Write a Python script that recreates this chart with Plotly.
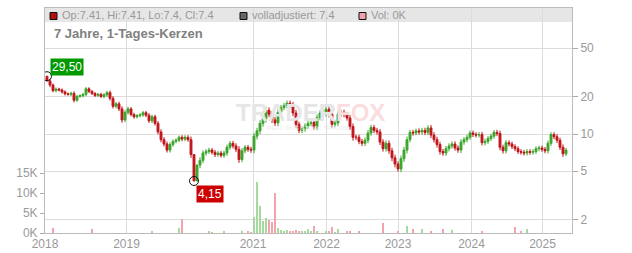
import plotly.graph_objects as go
import math

# ---------------- data ----------------
# one candle per step (about 2 weeks), 2018 -> spring 2025
close = [
    27.0, 25.0, 22.5, 23.2, 22.8, 22.0, 21.2, 21.0, 21.4, 18.8,
    20.2, 20.5, 21.0, 23.3, 22.2, 21.3, 20.6, 21.0, 20.2, 20.8,
    21.7, 19.5, 16.8, 17.6, 16.0, 13.0, 15.0, 16.0, 14.4, 13.8,
    14.1, 14.3, 14.9, 14.2, 12.8, 13.8, 12.2, 10.4, 9.0, 8.3,
    7.4, 8.2, 8.7, 8.9, 9.4, 9.1, 9.4, 9.0, 6.8, 4.15,
    5.6, 6.1, 7.0, 7.2, 7.4, 7.1, 6.8, 7.0, 6.7, 7.0,
    7.8, 8.4, 8.0, 7.5, 6.2, 7.3, 7.8, 7.5, 7.4, 9.6,
    10.6, 12.2, 13.2, 15.6, 14.5, 13.0, 12.3, 15.0, 16.4, 17.0,
    17.8, 17.2, 14.8, 12.0, 10.7, 11.0, 11.6, 12.2, 12.4, 11.4,
    13.6, 14.8, 14.6, 15.9, 14.5, 12.0, 12.3, 14.5, 15.0, 14.4,
    13.5, 11.5, 9.4, 9.4, 8.7, 8.4, 8.9, 10.2, 11.3, 10.7,
    10.4, 8.6, 7.6, 8.4, 7.3, 6.4, 5.7, 5.2, 6.3, 7.4,
    9.0, 10.3, 10.2, 10.6, 10.4, 10.7, 10.3, 11.2, 9.8, 9.0,
    8.2, 7.2, 7.0, 7.6, 8.0, 8.3, 7.7, 7.4, 8.6, 9.0,
    9.4, 10.2, 9.9, 9.8, 9.9, 8.5, 8.7, 9.2, 9.6, 10.3,
    10.1, 7.8, 7.3, 8.5, 8.3, 7.9, 7.6, 7.2, 7.1, 7.0,
    7.2, 7.1, 7.2, 7.6, 7.7, 7.5, 7.3, 8.4, 9.9, 9.5,
    8.9, 7.8, 6.9, 7.4,
]
first_open = 29.5

# intraperiod range of each candle (percent)
wick_pct = [
    0, 8, 6, 6, 5, 6, 6, 5, 6, 8,
    6, 5, 6, 7, 6, 5, 6, 6, 6, 7,
    7, 8, 8, 7, 8, 10, 8, 8, 7, 7,
    6, 6, 7, 7, 8, 8, 8, 9, 10, 9,
    9, 9, 8, 7, 7, 8, 8, 8, 12, 0,
    0, 12, 10, 9, 9, 8, 9, 8, 8, 9,
    10, 9, 9, 10, 12, 10, 9, 9, 10, 12,
    12, 12, 12, 12, 11, 11, 11, 12, 10, 10,
    10, 10, 12, 12, 10, 10, 10, 10, 10, 11,
    12, 10, 10, 10, 12, 12, 11, 11, 10, 10,
    10, 12, 12, 10, 10, 10, 10, 11, 10, 10,
    10, 11, 11, 11, 11, 12, 12, 10, 12, 12,
    12, 10, 10, 9, 10, 10, 10, 10, 11, 11,
    11, 11, 10, 10, 10, 10, 10, 10, 11, 10,
    10, 9, 9, 9, 9, 10, 10, 9, 9, 9,
    10, 11, 10, 10, 9, 9, 9, 9, 9, 9,
    9, 9, 9, 9, 9, 9, 9, 10, 9, 9,
    10, 10, 11, 8,
]

vol_idx = [2, 15, 35, 44, 45, 54, 55, 59, 65, 67, 68, 69, 70, 71, 72, 73, 74, 75, 76, 77,
           78, 79, 80, 81, 82, 83, 84, 85, 86, 87, 88, 89, 90, 93, 94, 95, 96, 97, 100, 101,
           104, 112, 117, 120, 122, 125, 128, 132, 135, 145, 156, 158, 160]
vol_k = [1.2, 1.0, 0.3, 1.2, 3.6, 0.3, 0.2, 0.3, 0.3, 0.5, 0.2, 4.0, 12.7, 6.8, 3.0, 3.7, 3.2, 2.8, 10.0, 1.2,
         0.8, 0.5, 0.8, 0.4, 0.6, 0.7, 0.4, 0.3, 0.6, 1.0, 0.5, 1.75, 0.3, 0.4, 0.4, 1.5, 0.2, 1.0, 0.5, 0.6,
         0.3, 2.5, 0.3, 1.75, 1.0, 1.0, 0.5, 1.0, 0.8, 0.3, 1.5, 0.3, 1.0]

year_labels = ["2018", "2019", "2021", "2022", "2023", "2024", "2025"]
year_pos = [-0.667, 26.5, 68.67, 93.17, 117.0, 141.5, 165.17]

price_ticks = [2, 5, 10, 20, 50]
vol_ticks = [0, 5, 10, 15]
vol_ticktext = ["0K", "5K", "10K", "15K"]

max_label = "29,50"
min_label = "4,15"
header_items = ["Op:7.41, Hi:7.41, Lo:7.4, Cl:7.4", "volladjustiert: 7.4", "Vol: 0K"]
title_text = "7 Jahre, 1-Tages-Kerzen"

# ---------------- derived ----------------
n = len(close)
xs = list(range(n))
opens = [first_open] + close[:-1]
highs = [max(o, c) * (1 + w / 200.0) for o, c, w in zip(opens, close, wick_pct)]
lows = [min(o, c) * (1 - w / 200.0) for o, c, w in zip(opens, close, wick_pct)]

GREEN = "#3aa52a"
RED = "#c0151b"
VGREEN = "#a6d99e"
VRED = "#f2a3ab"

vol_colors = [VGREEN if close[i] >= opens[i] else VRED for i in vol_idx]

imax = max(range(n), key=lambda i: highs[i])
imin = min(range(n), key=lambda i: lows[i])

W, H = 632, 253
L, R, T, B = 45, 60, 8, 20
PW, PH = W - L - R, H - T - B


def px(xp):
    return (xp - L) / PW


def py(yp):
    return (H - B - yp) / PH


fig = go.Figure()

fig.add_trace(go.Bar(
    x=vol_idx, y=vol_k, yaxis="y2", marker=dict(color=vol_colors, line=dict(width=0)),
    width=0.45, hoverinfo="skip", showlegend=False,
))

fig.add_trace(go.Candlestick(
    x=xs, open=opens, high=highs, low=lows, close=close,
    increasing=dict(line=dict(color=GREEN, width=1), fillcolor=GREEN),
    decreasing=dict(line=dict(color=RED, width=1), fillcolor=RED),
    whiskerwidth=0, showlegend=False, yaxis="y",
))

fig.add_trace(go.Scatter(
    x=[imax, imin], y=[highs[imax], lows[imin]], mode="markers",
    marker=dict(symbol="circle-open", size=9, color="#111", line=dict(width=1, color="#111")),
    showlegend=False, hoverinfo="skip",
))

fig.add_annotation(x=imax, y=math.log10(highs[imax]), text=max_label, showarrow=False,
                   xanchor="left", yanchor="bottom", xshift=3, yshift=0,
                   bgcolor="#009900", font=dict(color="white", size=12, family="Liberation Sans"),
                   borderpad=1)
fig.add_annotation(x=imin, y=math.log10(lows[imin]), text=min_label, showarrow=False,
                   xanchor="left", yanchor="top", xshift=2, yshift=-4,
                   bgcolor="#cc0000", font=dict(color="white", size=12, family="Liberation Sans"),
                   borderpad=1)

# watermark
fig.add_annotation(xref="paper", yref="paper", x=px(310), y=py(112),
                   text='<b><span style="color:#e6e6e6">TRADER</span><span style="color:#fbdde0">FOX</span></b>',
                   showarrow=False, font=dict(size=24, family="Liberation Sans"))
fig.add_annotation(xref="paper", yref="paper", x=px(308), y=py(128),
                   text="REAL-TIME STOCK TRADING", showarrow=False,
                   font=dict(size=6, color="#ececec", family="Liberation Sans"))

# header band
fig.add_shape(type="rect", xref="paper", yref="paper", x0=0, x1=1, y0=py(22), y1=1,
              fillcolor="#e6e6e6", line=dict(width=0), layer="below")
sq_x = [50, 240, 359]
sq_col = ["#b01010", "#666666", "#f0a0aa"]
for sx, col, txt in zip(sq_x, sq_col, header_items):
    fig.add_shape(type="rect", xref="paper", yref="paper", x0=px(sx), x1=px(sx + 7),
                  y0=py(19.5), y1=py(12.5), fillcolor=col, line=dict(color="#111", width=1))
    fig.add_annotation(xref="paper", yref="paper", x=px(sx + 10), y=py(15.5), text=txt,
                       showarrow=False, xanchor="left", yanchor="middle",
                       font=dict(size=11, color="#999999", family="Liberation Sans"))

fig.add_annotation(xref="paper", yref="paper", x=px(52), y=py(33), text="<b>" + title_text + "</b>",
                   showarrow=False, xanchor="left", yanchor="middle",
                   font=dict(size=13, color="#808080", family="Liberation Sans"))

lo_p = 10 * 10 ** ((134 - 233) / 123)
hi_p = 10 * 10 ** ((134 - 8) / 123)

fig.update_layout(
    width=W, height=H, margin=dict(l=L, r=R, t=T, b=B, autoexpand=False),
    paper_bgcolor="white", plot_bgcolor="rgba(0,0,0,0)",
    showlegend=False, bargap=0, boxgap=0.1,
    font=dict(family="Liberation Sans", color="#999999"),
    xaxis=dict(range=[-0.667, 175], tickvals=year_pos, ticktext=year_labels,
               showgrid=True, gridcolor="#dcdcdc", gridwidth=1, zeroline=False,
               showline=True, linecolor="#bbbbbb", mirror=True, automargin=False,
               ticks="", tickfont=dict(size=12, color="#999999"),
               rangeslider=dict(visible=False), fixedrange=True),
    yaxis=dict(type="log", side="right", range=[math.log10(lo_p), math.log10(hi_p)],
               tickvals=price_ticks, ticktext=[str(v) for v in price_ticks],
               showgrid=True, gridcolor="#dcdcdc", gridwidth=1, zeroline=False,
               showline=True, linecolor="#bbbbbb", mirror=True, automargin=False,
               ticks="outside", ticklen=5, tickcolor="#aaaaaa",
               tickfont=dict(size=12, color="#999999")),
    yaxis2=dict(overlaying="y", side="left", range=[0, PH / 4.0], automargin=False,
                tickvals=vol_ticks, ticktext=vol_ticktext, showgrid=False, zeroline=False,
                ticks="outside", ticklen=4, tickcolor="#aaaaaa",
                tickfont=dict(size=12, color="#999999"), showline=False),
)

fig.write_html("out.html")
